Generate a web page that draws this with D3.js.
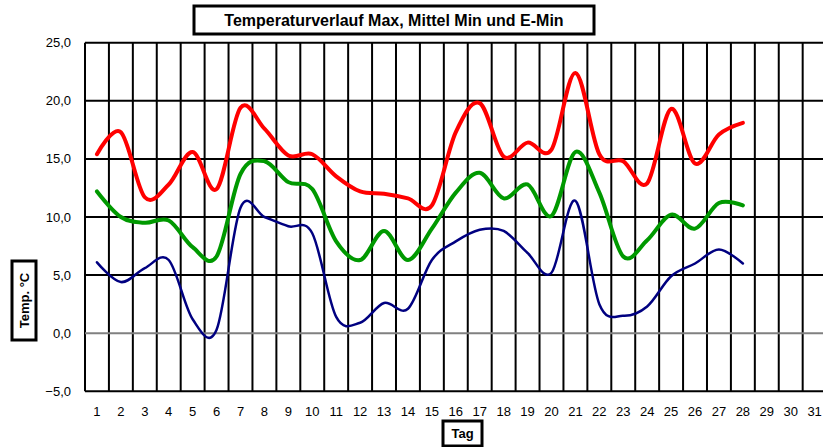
<!DOCTYPE html>
<html lang="de">
<head>
<meta charset="UTF-8">
<title>Temperaturverlauf</title>
<script src="https://cdn.jsdelivr.net/npm/d3@7"></script>
<style>
body { margin: 0; background: #fff; }
svg { display: block; font-family: Arial, "Liberation Sans", sans-serif; }
.grid line { stroke: #000; stroke-width: 2; }
.tick-label { font-size: 13px; fill: #000; }
.box { fill: #fff; stroke: #000; stroke-width: 3; }
.box-text { font-weight: bold; fill: #000; }
</style>
</head>
<body>
<script>
// Tage 1..31, Werte nur bis Tag 28
const tage = d3.range(1, 32)
const tMax = [15.4, 17.3, 11.7, 12.8, 15.6, 12.4, 19.4, 17.6, 15.3, 15.4, 13.5, 12.2, 12.0, 11.6, 11.0, 17.3, 19.8, 15.2, 16.4, 15.8, 22.4, 15.4, 14.8, 12.9, 19.3, 14.6, 17.1, 18.1]
const tMittel = [12.2, 10.0, 9.5, 9.7, 7.4, 6.6, 13.7, 14.8, 13.0, 12.4, 7.9, 6.3, 8.8, 6.3, 9.0, 12.1, 13.8, 11.6, 12.8, 10.1, 15.6, 12.1, 6.6, 8.0, 10.2, 9.0, 11.2, 11.0]
const tEMin = [6.1, 4.4, 5.6, 6.3, 1.2, 0.3, 10.8, 10.0, 9.2, 8.6, 1.4, 0.9, 2.6, 2.1, 6.3, 7.9, 8.9, 8.8, 6.9, 5.2, 11.4, 2.5, 1.5, 2.3, 4.9, 6.0, 7.2, 6.0]
const yTicks = [-5, 0, 5, 10, 15, 20, 25]

const width = 823, height = 447
const svg = d3.select("body").append("svg")
    .attr("width", width).attr("height", height)

const x = d3.scaleBand().domain(tage).range([85, 826.6]).padding(0)
const y = d3.scaleLinear().domain([-5, 25]).range([391.3, 42.7])

// Gitter
const grid = svg.append("g").attr("class", "grid")
grid.selectAll(".v").data(d3.range(0, 32))
    .enter().append("line")
    .attr("x1", i => 85 + i * x.step()).attr("x2", i => 85 + i * x.step())
    .attr("y1", y(25)).attr("y2", y(-5))
grid.selectAll(".h").data(yTicks)
    .enter().append("line")
    .attr("x1", 85).attr("x2", 826.6)
    .attr("y1", d => y(d)).attr("y2", d => y(d))
    .style("stroke", d => d === 0 ? "#808080" : "#000")

// Achsenbeschriftungen
svg.append("g").selectAll("text").data(yTicks)
    .enter().append("text")
    .attr("class", "tick-label")
    .attr("x", 71).attr("y", d => y(d))
    .attr("dy", "0.35em").attr("text-anchor", "end")
    .text(d => d3.format(".1f")(d).replace(".", ","))

svg.append("g").selectAll("text").data(tage)
    .enter().append("text")
    .attr("class", "tick-label")
    .attr("x", d => x(d) + x.bandwidth() / 2).attr("y", 411)
    .attr("dy", "0.35em").attr("text-anchor", "middle")
    .text(d => d)

// Linien
const line = d3.line()
    .x((d, i) => x(i + 1) + x.bandwidth() / 2)
    .y(d => y(d))
    .curve(d3.curveCatmullRom.alpha(0))

const serien = [
    { werte: tMax, farbe: "#ff0000", breite: 4 },
    { werte: tMittel, farbe: "#009900", breite: 4 },
    { werte: tEMin, farbe: "#000080", breite: 2.5 }
]
svg.append("g").selectAll("path").data(serien)
    .enter().append("path")
    .attr("d", d => line(d.werte))
    .attr("fill", "none")
    .attr("stroke", d => d.farbe)
    .attr("stroke-width", d => d.breite)
    .attr("stroke-linejoin", "round")
    .attr("stroke-linecap", "round")

// Titel und Achsentitel in Kästen
function kasten(x0, y0, w, h, text, size, rot) {
    const g = svg.append("g")
    g.append("rect").attr("class", "box")
        .attr("x", x0).attr("y", y0).attr("width", w).attr("height", h)
    const t = g.append("text").attr("class", "box-text")
        .attr("font-size", size + "px")
        .attr("text-anchor", "middle").attr("dy", "0.35em")
        .text(text)
    const cx = x0 + w / 2, cy = y0 + h / 2
    if (rot) t.attr("transform", `translate(${cx},${cy}) rotate(-90)`)
    else t.attr("x", cx).attr("y", cy)
}
kasten(194, 6, 400, 28, "Temperaturverlauf Max, Mittel Min und E-Min", 16, false)
kasten(12, 261, 24, 79, "Temp. °C", 13, true)
kasten(443, 421, 39, 25, "Tag", 13, false)
</script>
</body>
</html>
